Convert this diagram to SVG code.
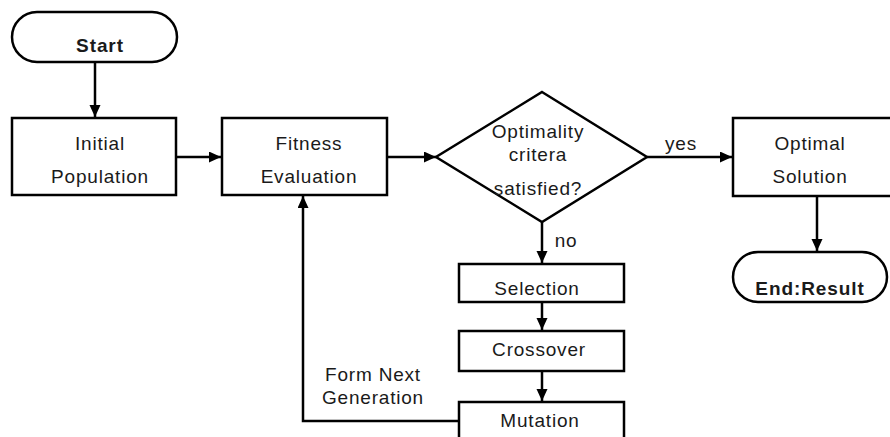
<svg xmlns="http://www.w3.org/2000/svg" width="890" height="437" viewBox="0 0 890 437">
<defs>
<marker id="ah" markerUnits="userSpaceOnUse" markerWidth="14" markerHeight="12" refX="12" refY="5.5" orient="auto">
<path d="M0,0 L12,5.5 L0,11 Z" fill="#000"/>
</marker>
<style>
.shape{fill:#fff;stroke:#000;stroke-width:2.5}
.edge{fill:none;stroke:#000;stroke-width:2.5}
.t{font-family:"Liberation Sans",Arial,sans-serif;font-size:19px;letter-spacing:0.8px;fill:#1a1a1a;text-anchor:middle}
.b{font-weight:bold;letter-spacing:0.9px}
</style>
</defs>
<rect width="890" height="437" fill="#fff"/>
<g id="connectors">
<path class="edge" d="M95,62 L95,117" marker-end="url(#ah)"/>
<path class="edge" d="M176,157 L221,157" marker-end="url(#ah)"/>
<path class="edge" d="M387,157 L436,157" marker-end="url(#ah)"/>
<path class="edge" d="M647,157 L732,157" marker-end="url(#ah)"/>
<path class="edge" d="M817,196 L817,251" marker-end="url(#ah)"/>
<path class="edge" d="M542,222 L542,263" marker-end="url(#ah)"/>
<path class="edge" d="M542,302 L542,330" marker-end="url(#ah)"/>
<path class="edge" d="M542,371 L542,401" marker-end="url(#ah)"/>
<path class="edge" d="M459,421 L303,421 L303,196" marker-end="url(#ah)"/>
<text class="t" x="681" y="150">yes</text>
<text class="t" x="566" y="247">no</text>
<text class="t" x="373" y="381">Form Next</text>
<text class="t" x="373" y="404">Generation</text>
</g>
<g id="start">
<rect class="shape" x="12" y="12" width="165" height="50" rx="25" ry="25"/>
<text class="t b" x="100" y="52">Start</text>
</g>
<g id="initial">
<rect class="shape" x="12" y="118" width="164" height="77"/>
<text class="t" x="100" y="150">Initial</text>
<text class="t" x="100" y="183">Population</text>
</g>
<g id="fitness">
<rect class="shape" x="222" y="118" width="165" height="77"/>
<text class="t" x="309" y="150">Fitness</text>
<text class="t" x="309" y="183">Evaluation</text>
</g>
<g id="decision">
<path class="shape" d="M542,92 L647,157 L542,222 L436,157 Z"/>
<text class="t" x="538" y="138">Optimality</text>
<text class="t" x="538" y="161">critera</text>
<text class="t" x="538" y="195">satisfied?</text>
</g>
<g id="optimal">
<rect class="shape" x="733" y="118" width="170" height="78"/>
<text class="t" x="810" y="150">Optimal</text>
<text class="t" x="810" y="183">Solution</text>
</g>
<g id="end">
<rect class="shape" x="733" y="252" width="154" height="50" rx="25" ry="25"/>
<text class="t b" x="810" y="295">End:Result</text>
</g>
<g id="selection">
<rect class="shape" x="459" y="264" width="165" height="38"/>
<text class="t" x="537" y="295">Selection</text>
</g>
<g id="crossover">
<rect class="shape" x="459" y="331" width="165" height="40"/>
<text class="t" x="539" y="356">Crossover</text>
</g>
<g id="mutation">
<rect class="shape" x="459" y="402" width="165" height="45"/>
<text class="t" x="540" y="427">Mutation</text>
</g>
</svg>
